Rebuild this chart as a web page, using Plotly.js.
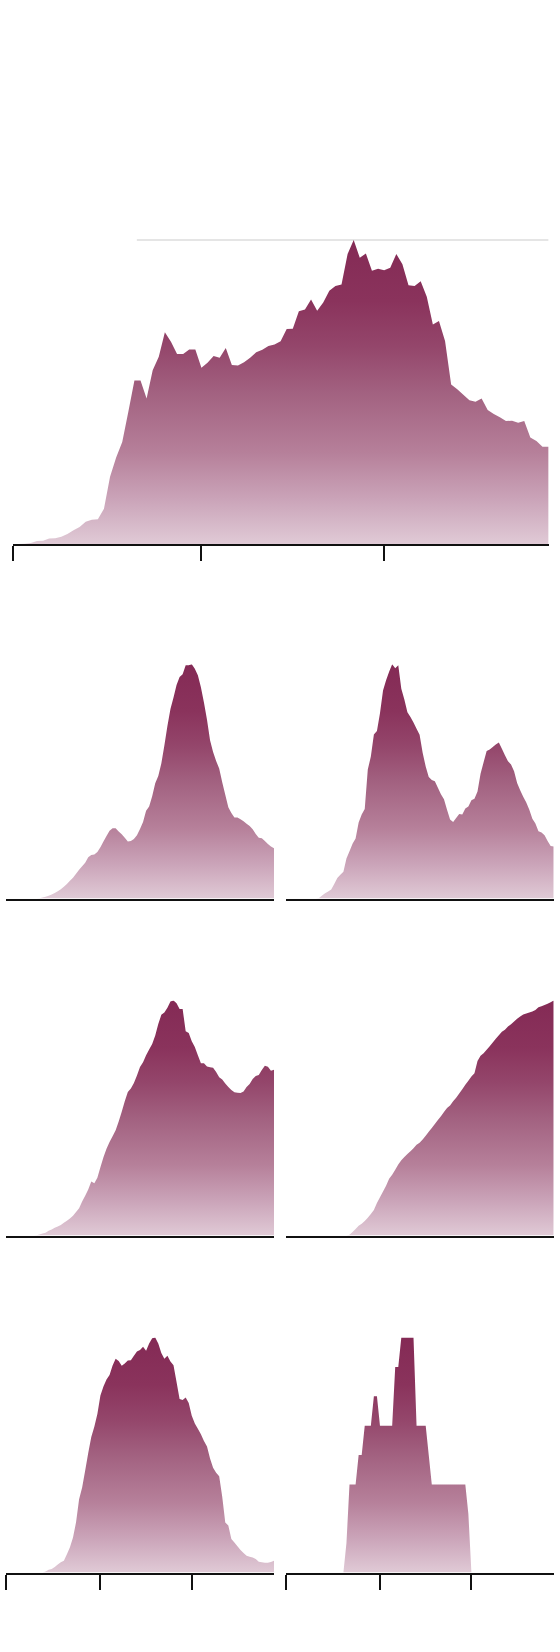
<!DOCTYPE html>
<html>
<head>
<meta charset="utf-8">
<script src="https://cdn.plot.ly/plotly-3.0.1.min.js"></script>
<style>
html,body{margin:0;padding:0;background:#fff;}
#chart{width:560px;height:1652px;}
</style>
</head>
<body>
<div id="chart"></div>
<script>
// Daily values, day 0 = first tick (three ticks: day 0, 31, 61)
const tickDays = [0, 31, 61];

const mainSeries = [0,0,0.1,0.3,1.0,1.1,1.8,1.9,2.4,3.3,4.5,5.6,7.3,8.0,8.1,11.6,22.1,28.4,33.5,43.4,
  53.7,53.7,47.8,57.1,61.5,69.5,66.4,62.4,62.4,63.9,63.9,57.9,59.5,61.7,61.2,64.4,58.8,58.6,59.7,61.2,
  63.0,63.8,65.0,65.5,66.6,70.6,70.7,76.4,77.0,80.3,76.6,79.3,83.2,84.7,85.2,95.2,99.8,94.0,95.4,89.7,
  90.4,89.9,90.7,95.2,91.9,85.0,84.7,86.3,81.2,72.1,73.2,66.7,52.4,50.8,49.0,47.2,46.7,47.8,44.0,42.7,
  41.6,40.4,40.5,39.8,40.4,35.0,33.8,31.9,31.9];

const panelA = [0,0,0,0,0,0,0,0,0,0,0,0.1,0.4,0.7,1.2,1.7,2.3,3.1,3.9,5.0,
  6.2,7.5,8.8,10.5,12.2,13.7,15.2,17.6,18.5,18.7,19.8,21.8,24.3,26.6,28.8,29.9,29.9,28.5,27.3,25.8,
  24.3,24.5,25.3,26.9,29.6,32.6,37.3,39.2,43.5,49.0,52.1,57.4,65.1,73.4,80.6,85.5,90.8,94.3,95.4,99.3,
  99.3,99.7,97.8,95.0,89.9,83.4,76.1,67.3,62.3,58.5,55.3,49.5,44.1,38.8,36.4,34.5,34.5,33.7,32.9,31.8,
  30.9,29.5,27.4,25.9,25.6,24.5,23.2,22.1,21.4];

const panelB = [0,0,0,0,0,0,0,0,0,0,0,0.2,1.3,2.2,3.0,3.8,6.1,8.7,10.1,11.3,
  17.0,20.0,23.2,25.5,32.2,35.6,38.0,54.7,60.2,69.6,71.1,78.6,88.2,92.6,96.2,99.4,97.7,99.0,89.0,84.4,
  79.0,77.0,74.7,72.0,69.5,61.8,56.0,51.5,50.3,49.7,47.0,44.2,42.1,37.7,33.5,32.5,34.1,35.9,35.6,38.2,
  39.0,41.7,42.3,45.4,52.9,57.8,62.6,63.2,64.3,65.3,66.2,63.5,60.8,58.2,56.9,54.0,49.0,45.9,43.2,40.7,
  37.6,33.8,31.8,28.5,28.0,26.8,24.4,22.3,22.1];

const panelC = [0,0,0,0,0,0,0,0,0,0,0.1,0.4,0.8,1.2,2.0,2.6,3.3,3.8,4.5,5.4,
  6.3,7.2,8.4,10.0,11.6,14.4,16.9,19.5,22.9,22.2,24.5,29.0,33.2,36.8,39.7,42.2,44.7,48.4,52.6,57.0,
  60.9,62.4,64.8,68.0,71.6,73.6,76.5,79.0,81.3,84.9,89.8,93.7,94.7,96.7,99.4,99.8,98.6,96.2,96.2,86.7,
  86.0,82.5,80.1,76.5,73.2,73.2,71.8,71.5,71.2,69.4,67.2,66.3,64.6,63.1,61.8,60.8,60.6,60.5,61.2,63.1,
  64.3,66.5,67.7,68.2,70.3,72.1,71.7,70.0,70.4];

const panelD = [0,0,0,0,0,0,0,0,0,0,0,0,0,0,0,0,0,0,0,0,
  0,0.3,1.5,2.8,4.1,5.0,6.2,7.5,9.1,10.9,13.8,16.3,18.7,21.2,24.2,25.8,28.0,30.2,32.0,33.4,
  34.7,35.9,37.1,38.6,39.5,40.8,42.5,44.2,45.7,47.4,49.1,50.7,52.5,54.3,55.3,57.1,58.6,60.4,62.2,64.1,
  65.9,67.7,69.0,74.3,76.5,77.6,79.0,80.5,82.1,83.7,85.2,86.7,87.6,88.9,89.9,91.1,92.2,93.2,94.0,94.5,
  94.9,95.3,96.0,97.1,97.6,98.1,98.6,99.3,100];

const panelE = [0,0,0,0,0,0,0,0,0,0,0,0,0,0.4,1.2,1.5,2.3,3.4,4.3,5.0,
  7.7,10.7,14.9,21.3,31.1,36.1,43.3,50.7,57.5,61.9,67.3,75.2,79.0,82.0,83.9,87.9,90.8,89.8,87.8,88.8,
  90.0,90.1,92.1,93.9,94.5,95.9,94.2,97.2,99.5,99.8,97.2,93.2,90.8,92.0,89.6,88.0,80.9,73.7,73.3,74.3,
  72.0,66.6,63.3,61.0,58.7,55.8,53.5,48.4,44.5,42.4,40.9,32.2,21.2,20.0,14.2,12.7,11.2,9.6,8.3,7.1,
  6.7,6.4,5.7,4.6,4.3,4.1,4.1,4.5,5.0];

const panelF = [0,0,0,0,0,0,0,0,0,0,0,0,0,0,0,0,0,0,0,0,
  1,3,3,3,4,4,5,5,5,6,6,5,5,5,5,5,7,7,8,8,
  8,8,8,5,5,5,5,4,3,3,3,3,3,3,3,3,3,3,3,3,
  2,0,0,0,0,0,0,0,0,0,0,0,0,0,0,0,0,0,0,0,
  0,0,0,0,0,0,0,0,0];

const gradientStops = [
  [0, 'rgb(224,202,214)'],
  [0.15, 'rgb(202,163,184)'],
  [0.3, 'rgb(182,128,154)'],
  [0.5, 'rgb(162,97,128)'],
  [0.65, 'rgb(148,70,107)'],
  [0.8, 'rgb(138,51,92)'],
  [1, 'rgb(132,42,85)']
];

function areaTrace(vals, xa, ya) {
  const days = vals.map((_, i) => i);
  const top = Math.max.apply(null, vals);
  return {
    x: days, y: vals, xaxis: xa, yaxis: ya,
    type: 'scatter', mode: 'none', fill: 'tozeroy',
    fillgradient: {type: 'vertical', colorscale: gradientStops, start: 0, stop: top},
    hoverinfo: 'skip', showlegend: false
  };
}

const series = [
  {vals: mainSeries, xa: 'x', ya: 'y'},
  {vals: panelA, xa: 'x2', ya: 'y2'},
  {vals: panelB, xa: 'x3', ya: 'y3'},
  {vals: panelC, xa: 'x4', ya: 'y4'},
  {vals: panelD, xa: 'x5', ya: 'y5'},
  {vals: panelE, xa: 'x6', ya: 'y6'},
  {vals: panelF, xa: 'x7', ya: 'y7'}
];
const data = series.map(s => areaTrace(s.vals, s.xa, s.ya));

const W = 560, H = 1652;
const px = v => v / W;
const py = v => 1 - v / H;

function xAxis(d0, d1, withTicks, anchor) {
  const a = {
    domain: [px(d0), px(d1)], range: [0, mainSeries.length - 1], anchor: anchor,
    showgrid: false, zeroline: false, showline: true, linecolor: '#111', linewidth: 2,
    showticklabels: false, fixedrange: true
  };
  if (withTicks) {
    a.tickmode = 'array'; a.tickvals = tickDays; a.ticks = 'outside';
    a.ticklen = 15; a.tickwidth = 2; a.tickcolor = '#111';
  } else {
    a.ticks = '';
  }
  return a;
}
function yAxis(topPx, basePx, maxVal, anchor) {
  return {
    domain: [py(basePx), py(topPx)], range: [0, maxVal], anchor: anchor,
    showgrid: false, zeroline: false, showline: false, showticklabels: false,
    ticks: '', fixedrange: true
  };
}

const colL = [6, 274], colR = [285.5, 553.7];
const rows = [[664.2, 898.5], [1000.5, 1235.5], [1337.5, 1572.5]];

const layout = {
  width: W, height: H,
  margin: {l: 0, r: 0, t: 0, b: 0},
  paper_bgcolor: '#fff', plot_bgcolor: 'rgba(0,0,0,0)',
  showlegend: false,
  xaxis: xAxis(12.6, 548.6, true, 'y'),
  yaxis: yAxis(239.5, 544, 100, 'x'),
  xaxis2: xAxis(colL[0], colL[1], false, 'y2'),
  yaxis2: yAxis(rows[0][0], rows[0][1], Math.max.apply(null, panelA), 'x2'),
  xaxis3: xAxis(colR[0], colR[1], false, 'y3'),
  yaxis3: yAxis(rows[0][0], rows[0][1], Math.max.apply(null, panelB), 'x3'),
  xaxis4: xAxis(colL[0], colL[1], false, 'y4'),
  yaxis4: yAxis(rows[1][0], rows[1][1], Math.max.apply(null, panelC), 'x4'),
  xaxis5: xAxis(colR[0], colR[1], false, 'y5'),
  yaxis5: yAxis(rows[1][0], rows[1][1], Math.max.apply(null, panelD), 'x5'),
  xaxis6: xAxis(colL[0], colL[1], true, 'y6'),
  yaxis6: yAxis(rows[2][0], rows[2][1], Math.max.apply(null, panelE), 'x6'),
  xaxis7: xAxis(colR[0], colR[1], true, 'y7'),
  yaxis7: yAxis(rows[2][0], rows[2][1], Math.max.apply(null, panelF), 'x7'),
  shapes: [{
    type: 'line', xref: 'x', yref: 'y', layer: 'below',
    x0: 20.4, x1: mainSeries.length - 1, y0: 100, y1: 100,
    line: {color: '#cccccc', width: 2}
  }]
};

Plotly.newPlot('chart', data, layout, {displayModeBar: false, staticPlot: true});
</script>
</body>
</html>
